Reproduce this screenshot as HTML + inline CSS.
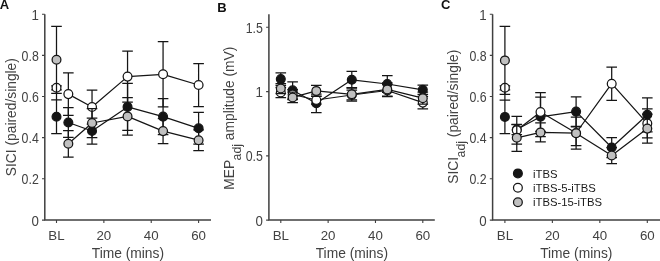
<!DOCTYPE html><html><head><meta charset="utf-8"><style>
html,body{margin:0;padding:0;background:#fff;}
body{width:660px;height:261px;overflow:hidden;}
svg{display:block;filter:grayscale(1);}
text{font-family:"Liberation Sans", sans-serif;}
</style></head><body>
<svg width="660" height="261" viewBox="0 0 660 261">
<rect width="660" height="261" fill="#fff"/>
<g stroke="#404040" fill="none">
<path d="M44.8 14.3V220.1H211" stroke-width="1.5" stroke-linejoin="miter"/>
<path d="M42 14.3H44.8M42 55.4H44.8M42 96.5H44.8M42 137.6H44.8M42 178.8H44.8M42 220.1H44.8" stroke-width="1.1"/>
<path d="M56.5 220.1V222.9M103.87 220.1V222.9M151.23 220.1V222.9M198.6 220.1V222.9" stroke-width="1.1"/>
</g>
<g fill="#424242" font-size="13.3" text-anchor="end">
<text transform="translate(38.8 19.7) scale(1 1.04)">1</text>
<text transform="translate(38.8 60.8) scale(0.93 1.04)">0.8</text>
<text transform="translate(38.8 101.9) scale(0.93 1.04)">0.6</text>
<text transform="translate(38.8 143) scale(0.93 1.04)">0.4</text>
<text transform="translate(38.8 184.2) scale(0.93 1.04)">0.2</text>
<text transform="translate(38.8 225.5) scale(1 1.04)">0</text>
</g>
<g fill="#424242" font-size="13.3" text-anchor="middle">
<text x="56.5" y="239.7">BL</text>
<text x="103.87" y="239.7">20</text>
<text x="151.23" y="239.7">40</text>
<text x="198.6" y="239.7">60</text>
</g>
<text x="127.9" y="258.2" fill="#424242" font-size="13.8" text-anchor="middle">Time (mins)</text>
<path d="M56.5 88V100" fill="none" stroke="#151515" stroke-width="1.25"/>
<path d="M68.34 122.5 L92.03 131 L127.55 106.9 L163.07 116.6 L198.6 128.3" fill="none" stroke="#151515" stroke-width="1.25" stroke-linejoin="round"/>
<path d="M56.5 99.9V133.5M51.2 99.9H61.8M51.2 133.5H61.8M68.34 107.7V137.3M63.04 107.7H73.64M63.04 137.3H73.64M92.03 118V144M86.73 118H97.33M86.73 144H97.33M127.55 83.4V130.4M122.25 83.4H132.85M122.25 130.4H132.85M163.07 98.7V134.5M157.77 98.7H168.38M157.77 134.5H168.38M198.6 112.4V144.2M193.3 112.4H203.9M193.3 144.2H203.9" fill="none" stroke="#151515" stroke-width="1.25"/>
<circle cx="56.5" cy="116.7" r="4.4" fill="#151515" stroke="#151515" stroke-width="1.25"/>
<circle cx="68.34" cy="122.5" r="4.4" fill="#151515" stroke="#151515" stroke-width="1.25"/>
<circle cx="92.03" cy="131" r="4.4" fill="#151515" stroke="#151515" stroke-width="1.25"/>
<circle cx="127.55" cy="106.9" r="4.4" fill="#151515" stroke="#151515" stroke-width="1.25"/>
<circle cx="163.07" cy="116.6" r="4.4" fill="#151515" stroke="#151515" stroke-width="1.25"/>
<circle cx="198.6" cy="128.3" r="4.4" fill="#151515" stroke="#151515" stroke-width="1.25"/>
<path d="M68.34 94.1 L92.03 107 L127.55 76.6 L163.07 74.3 L198.6 85" fill="none" stroke="#151515" stroke-width="1.25" stroke-linejoin="round"/>
<path d="M56.5 85.8V89.8M51.2 85.8H61.8M51.2 89.8H61.8M68.34 72.8V115.4M63.04 72.8H73.64M63.04 115.4H73.64M92.03 90V124M86.73 90H97.33M86.73 124H97.33M127.55 51.1V102.1M122.25 51.1H132.85M122.25 102.1H132.85M163.07 41.7V106.9M157.77 41.7H168.38M157.77 106.9H168.38M198.6 63.5V106.5M193.3 63.5H203.9M193.3 106.5H203.9" fill="none" stroke="#151515" stroke-width="1.25"/>
<circle cx="56.5" cy="87.8" r="4.4" fill="#fff" stroke="#151515" stroke-width="1.25"/>
<circle cx="68.34" cy="94.1" r="4.4" fill="#fff" stroke="#151515" stroke-width="1.25"/>
<circle cx="92.03" cy="107" r="4.4" fill="#fff" stroke="#151515" stroke-width="1.25"/>
<circle cx="127.55" cy="76.6" r="4.4" fill="#fff" stroke="#151515" stroke-width="1.25"/>
<circle cx="163.07" cy="74.3" r="4.4" fill="#fff" stroke="#151515" stroke-width="1.25"/>
<circle cx="198.6" cy="85" r="4.4" fill="#fff" stroke="#151515" stroke-width="1.25"/>
<path d="M68.34 143.8 L92.03 123 L127.55 116.4 L163.07 131.1 L198.6 140.2" fill="none" stroke="#151515" stroke-width="1.25" stroke-linejoin="round"/>
<path d="M56.5 26.3V93.3M51.2 26.3H61.8M51.2 93.3H61.8M68.34 130.6V157M63.04 130.6H73.64M63.04 157H73.64M92.03 108.5V137.5M86.73 108.5H97.33M86.73 137.5H97.33M127.55 97.7V135.1M122.25 97.7H132.85M122.25 135.1H132.85M163.07 118.7V143.5M157.77 118.7H168.38M157.77 143.5H168.38M198.6 129.8V150.6M193.3 129.8H203.9M193.3 150.6H203.9" fill="none" stroke="#151515" stroke-width="1.25"/>
<circle cx="56.5" cy="59.8" r="4.4" fill="#c0c0c0" stroke="#151515" stroke-width="1.25"/>
<circle cx="68.34" cy="143.8" r="4.4" fill="#c0c0c0" stroke="#151515" stroke-width="1.25"/>
<circle cx="92.03" cy="123" r="4.4" fill="#c0c0c0" stroke="#151515" stroke-width="1.25"/>
<circle cx="127.55" cy="116.4" r="4.4" fill="#c0c0c0" stroke="#151515" stroke-width="1.25"/>
<circle cx="163.07" cy="131.1" r="4.4" fill="#c0c0c0" stroke="#151515" stroke-width="1.25"/>
<circle cx="198.6" cy="140.2" r="4.4" fill="#c0c0c0" stroke="#151515" stroke-width="1.25"/>
<g stroke="#404040" fill="none">
<path d="M268.9 14.3V220.1H434.8" stroke-width="1.5" stroke-linejoin="miter"/>
<path d="M266.1 27.2H268.9M266.1 91.6H268.9M266.1 155.9H268.9M266.1 220.1H268.9" stroke-width="1.1"/>
<path d="M280.8 220.1V222.9M328.13 220.1V222.9M375.47 220.1V222.9M422.8 220.1V222.9" stroke-width="1.1"/>
</g>
<g fill="#424242" font-size="13.3" text-anchor="end">
<text transform="translate(262.9 32.6) scale(0.93 1.04)">1.5</text>
<text transform="translate(262.9 97) scale(1 1.04)">1</text>
<text transform="translate(262.9 161.3) scale(0.93 1.04)">0.5</text>
<text transform="translate(262.9 225.5) scale(1 1.04)">0</text>
</g>
<g fill="#424242" font-size="13.3" text-anchor="middle">
<text x="280.8" y="239.7">BL</text>
<text x="328.13" y="239.7">20</text>
<text x="375.47" y="239.7">40</text>
<text x="422.8" y="239.7">60</text>
</g>
<text x="351.85" y="258.2" fill="#424242" font-size="13.8" text-anchor="middle">Time (mins)</text>
<path d="M292.63 90.3 L316.3 103.3 L351.8 79.8 L387.3 84 L422.8 89.8" fill="none" stroke="#151515" stroke-width="1.25" stroke-linejoin="round"/>
<path d="M280.8 72.8V85.4M275.5 72.8H286.1M275.5 85.4H286.1M292.63 81.8V98.8M287.33 81.8H297.93M287.33 98.8H297.93M316.3 94.1V112.5M311 94.1H321.6M311 112.5H321.6M351.8 71.4V88.2M346.5 71.4H357.1M346.5 88.2H357.1M387.3 75.7V92.3M382 75.7H392.6M382 92.3H392.6M422.8 85.2V94.4M417.5 85.2H428.1M417.5 94.4H428.1" fill="none" stroke="#151515" stroke-width="1.25"/>
<circle cx="280.8" cy="79.1" r="4.4" fill="#151515" stroke="#151515" stroke-width="1.25"/>
<circle cx="292.63" cy="90.3" r="4.4" fill="#151515" stroke="#151515" stroke-width="1.25"/>
<circle cx="316.3" cy="103.3" r="4.4" fill="#151515" stroke="#151515" stroke-width="1.25"/>
<circle cx="351.8" cy="79.8" r="4.4" fill="#151515" stroke="#151515" stroke-width="1.25"/>
<circle cx="387.3" cy="84" r="4.4" fill="#151515" stroke="#151515" stroke-width="1.25"/>
<circle cx="422.8" cy="89.8" r="4.4" fill="#151515" stroke="#151515" stroke-width="1.25"/>
<path d="M292.63 94.5 L316.3 100 L351.8 95 L387.3 90.5 L422.8 102.6" fill="none" stroke="#151515" stroke-width="1.25" stroke-linejoin="round"/>
<path d="M280.8 87.3V97.7M275.5 87.3H286.1M275.5 97.7H286.1M292.63 89.5V99.5M287.33 89.5H297.93M287.33 99.5H297.93M316.3 96V104M311 96H321.6M311 104H321.6M351.8 90.2V99.8M346.5 90.2H357.1M346.5 99.8H357.1M387.3 84.3V96.7M382 84.3H392.6M382 96.7H392.6M422.8 96.4V108.8M417.5 96.4H428.1M417.5 108.8H428.1" fill="none" stroke="#151515" stroke-width="1.25"/>
<circle cx="280.8" cy="92.5" r="4.4" fill="#fff" stroke="#151515" stroke-width="1.25"/>
<circle cx="292.63" cy="94.5" r="4.4" fill="#fff" stroke="#151515" stroke-width="1.25"/>
<circle cx="316.3" cy="100" r="4.4" fill="#fff" stroke="#151515" stroke-width="1.25"/>
<circle cx="351.8" cy="95" r="4.4" fill="#fff" stroke="#151515" stroke-width="1.25"/>
<circle cx="387.3" cy="90.5" r="4.4" fill="#fff" stroke="#151515" stroke-width="1.25"/>
<circle cx="422.8" cy="102.6" r="4.4" fill="#fff" stroke="#151515" stroke-width="1.25"/>
<path d="M292.63 97.4 L316.3 90.9 L351.8 94.3 L387.3 89.4 L422.8 98.2" fill="none" stroke="#151515" stroke-width="1.25" stroke-linejoin="round"/>
<path d="M280.8 83.5V93.5M275.5 83.5H286.1M275.5 93.5H286.1M292.63 92.2V102.6M287.33 92.2H297.93M287.33 102.6H297.93M316.3 85.4V96.4M311 85.4H321.6M311 96.4H321.6M351.8 87.5V101.1M346.5 87.5H357.1M346.5 101.1H357.1M387.3 82.8V96M382 82.8H392.6M382 96H392.6M422.8 92.2V104.2M417.5 92.2H428.1M417.5 104.2H428.1" fill="none" stroke="#151515" stroke-width="1.25"/>
<circle cx="280.8" cy="88.5" r="4.4" fill="#c0c0c0" stroke="#151515" stroke-width="1.25"/>
<circle cx="292.63" cy="97.4" r="4.4" fill="#c0c0c0" stroke="#151515" stroke-width="1.25"/>
<circle cx="316.3" cy="90.9" r="4.4" fill="#c0c0c0" stroke="#151515" stroke-width="1.25"/>
<circle cx="351.8" cy="94.3" r="4.4" fill="#c0c0c0" stroke="#151515" stroke-width="1.25"/>
<circle cx="387.3" cy="89.4" r="4.4" fill="#c0c0c0" stroke="#151515" stroke-width="1.25"/>
<circle cx="422.8" cy="98.2" r="4.4" fill="#c0c0c0" stroke="#151515" stroke-width="1.25"/>
<g stroke="#404040" fill="none">
<path d="M492.6 14.3V220.1H660" stroke-width="1.5" stroke-linejoin="miter"/>
<path d="M489.8 14.3H492.6M489.8 55.4H492.6M489.8 96.5H492.6M489.8 137.6H492.6M489.8 178.8H492.6M489.8 220.1H492.6" stroke-width="1.1"/>
<path d="M504.9 220.1V222.9M552.37 220.1V222.9M599.83 220.1V222.9M647.3 220.1V222.9" stroke-width="1.1"/>
</g>
<g fill="#424242" font-size="13.3" text-anchor="end">
<text transform="translate(486.6 19.7) scale(1 1.04)">1</text>
<text transform="translate(486.6 60.8) scale(0.93 1.04)">0.8</text>
<text transform="translate(486.6 101.9) scale(0.93 1.04)">0.6</text>
<text transform="translate(486.6 143) scale(0.93 1.04)">0.4</text>
<text transform="translate(486.6 184.2) scale(0.93 1.04)">0.2</text>
<text transform="translate(486.6 225.5) scale(1 1.04)">0</text>
</g>
<g fill="#424242" font-size="13.3" text-anchor="middle">
<text x="504.9" y="239.7">BL</text>
<text x="552.37" y="239.7">20</text>
<text x="599.83" y="239.7">40</text>
<text x="647.3" y="239.7">60</text>
</g>
<text x="576.3" y="258.2" fill="#424242" font-size="13.8" text-anchor="middle">Time (mins)</text>
<path d="M504.9 88V100" fill="none" stroke="#151515" stroke-width="1.25"/>
<path d="M516.77 129.5 L540.5 116.8 L576.1 111.6 L611.7 147.5 L647.3 114.8" fill="none" stroke="#151515" stroke-width="1.25" stroke-linejoin="round"/>
<path d="M504.9 100.1V133.7M499.6 100.1H510.2M499.6 133.7H510.2M516.77 124.5V134.5M511.47 124.5H522.07M511.47 134.5H522.07M540.5 97V136.6M535.2 97H545.8M535.2 136.6H545.8M576.1 96.9V126.3M570.8 96.9H581.4M570.8 126.3H581.4M611.7 137.5V157.5M606.4 137.5H617M606.4 157.5H617M647.3 97.8V131.8M642 97.8H652.6M642 131.8H652.6" fill="none" stroke="#151515" stroke-width="1.25"/>
<circle cx="504.9" cy="116.9" r="4.4" fill="#151515" stroke="#151515" stroke-width="1.25"/>
<circle cx="516.77" cy="129.5" r="4.4" fill="#151515" stroke="#151515" stroke-width="1.25"/>
<circle cx="540.5" cy="116.8" r="4.4" fill="#151515" stroke="#151515" stroke-width="1.25"/>
<circle cx="576.1" cy="111.6" r="4.4" fill="#151515" stroke="#151515" stroke-width="1.25"/>
<circle cx="611.7" cy="147.5" r="4.4" fill="#151515" stroke="#151515" stroke-width="1.25"/>
<circle cx="647.3" cy="114.8" r="4.4" fill="#151515" stroke="#151515" stroke-width="1.25"/>
<path d="M516.77 130.2 L540.5 112 L576.1 133 L611.7 83.7 L647.3 123.4" fill="none" stroke="#151515" stroke-width="1.25" stroke-linejoin="round"/>
<path d="M504.9 85.8V89.8M499.6 85.8H510.2M499.6 89.8H510.2M516.77 116.4V144M511.47 116.4H522.07M511.47 144H522.07M540.5 92.7V131.3M535.2 92.7H545.8M535.2 131.3H545.8M576.1 117V149M570.8 117H581.4M570.8 149H581.4M611.7 67V100.4M606.4 67H617M606.4 100.4H617M647.3 108.9V137.9M642 108.9H652.6M642 137.9H652.6" fill="none" stroke="#151515" stroke-width="1.25"/>
<circle cx="504.9" cy="87.8" r="4.4" fill="#fff" stroke="#151515" stroke-width="1.25"/>
<circle cx="516.77" cy="130.2" r="4.4" fill="#fff" stroke="#151515" stroke-width="1.25"/>
<circle cx="540.5" cy="112" r="4.4" fill="#fff" stroke="#151515" stroke-width="1.25"/>
<circle cx="576.1" cy="133" r="4.4" fill="#fff" stroke="#151515" stroke-width="1.25"/>
<circle cx="611.7" cy="83.7" r="4.4" fill="#fff" stroke="#151515" stroke-width="1.25"/>
<circle cx="647.3" cy="123.4" r="4.4" fill="#fff" stroke="#151515" stroke-width="1.25"/>
<path d="M516.77 137.8 L540.5 132.4 L576.1 133.2 L611.7 155.5 L647.3 128.6" fill="none" stroke="#151515" stroke-width="1.25" stroke-linejoin="round"/>
<path d="M504.9 26.4V94.4M499.6 26.4H510.2M499.6 94.4H510.2M516.77 124.3V151.3M511.47 124.3H522.07M511.47 151.3H522.07M540.5 122.9V141.9M535.2 122.9H545.8M535.2 141.9H545.8M576.1 126.9V145.5M570.8 126.9H581.4M570.8 145.5H581.4M611.7 147.5V163.5M606.4 147.5H617M606.4 163.5H617M647.3 114.2V143M642 114.2H652.6M642 143H652.6" fill="none" stroke="#151515" stroke-width="1.25"/>
<circle cx="504.9" cy="60.4" r="4.4" fill="#c0c0c0" stroke="#151515" stroke-width="1.25"/>
<circle cx="516.77" cy="137.8" r="4.4" fill="#c0c0c0" stroke="#151515" stroke-width="1.25"/>
<circle cx="540.5" cy="132.4" r="4.4" fill="#c0c0c0" stroke="#151515" stroke-width="1.25"/>
<circle cx="576.1" cy="133.2" r="4.4" fill="#c0c0c0" stroke="#151515" stroke-width="1.25"/>
<circle cx="611.7" cy="155.5" r="4.4" fill="#c0c0c0" stroke="#151515" stroke-width="1.25"/>
<circle cx="647.3" cy="128.6" r="4.4" fill="#c0c0c0" stroke="#151515" stroke-width="1.25"/>
<g font-weight="bold" font-size="13" fill="#111">
<text x="-0.3" y="8.8">A</text>
<text x="217.2" y="11.6">B</text>
<text x="441.0" y="8.9">C</text>
</g>
<g fill="#424242" font-size="13.8">
<text transform="translate(15.9 176.2) rotate(-90)">SICI (paired/single)</text>
<text transform="translate(234 189.8) rotate(-90)">MEP<tspan font-size="12.3" dy="6.8" dx="-0.5">adj</tspan><tspan dy="-6.8"> amplitude (mV)</tspan></text>
<text transform="translate(457.8 183.8) rotate(-90)">SICI<tspan font-size="12.3" dy="6.8" dx="-0.5">adj</tspan><tspan dy="-6.8"> (paired/single)</tspan></text>
</g>
<circle cx="517.9" cy="173.4" r="4.4" fill="#151515" stroke="#151515" stroke-width="1.25"/>
<text x="533.0" y="177.5" fill="#1a1a1a" font-size="11.3" >iTBS</text>
<circle cx="517.9" cy="187.8" r="4.4" fill="#fff" stroke="#151515" stroke-width="1.25"/>
<text x="533.0" y="191.9" fill="#1a1a1a" font-size="11.3" >iTBS-5-iTBS</text>
<circle cx="517.9" cy="202.3" r="4.4" fill="#c0c0c0" stroke="#151515" stroke-width="1.25"/>
<text x="533.0" y="206.4" fill="#1a1a1a" font-size="11.3" >iTBS-15-iTBS</text>
</svg></body></html>
